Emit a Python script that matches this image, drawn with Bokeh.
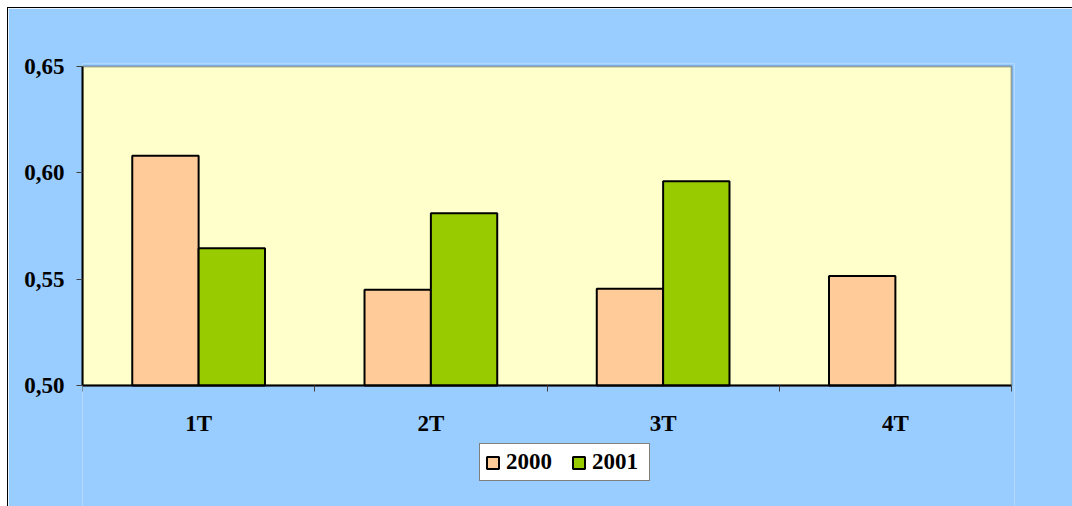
import numpy as np
from bokeh.plotting import figure
from bokeh.models import Range1d, FixedTicker, Legend, LegendItem, ColumnDataSource, BoxAnnotation
from bokeh.embed import file_html
from bokeh.resources import INLINE

categories = ["1T", "2T", "3T", "4T"]
series_names = ["2000", "2001"]
values_2000 = [0.608, 0.545, 0.5455, 0.5515]
values_2001 = [0.5645, 0.581, 0.596, None]
series_colors = ["#FFCC99", "#99CC00"]
y_ticks = [0.50, 0.55, 0.60, 0.65]
y_tick_labels = ["0,50", "0,55", "0,60", "0,65"]
y_min, y_max = 0.50, 0.65

FONT = "Liberation Serif"
BLUE = "#99CCFF"
n = len(categories)
centers = np.arange(n) + 0.5
bar_w = 1.0 / 3.5

# frame covers the area below the axis too, so the legend can live inside it;
# a small pad above and to the right keeps the plot-area border from being clipped
W, H = 1064, 498
LEFT, RIGHT, TOP = 74, 61, 58
PAD = 3
plot_w = W - LEFT - RIGHT
plot_h = 319.0
frame_h = H - TOP + PAD
y_hi = y_max + (y_max - y_min) * PAD / plot_h
y_low = y_hi - (y_max - y_min) * frame_h / plot_h
x_hi = n + n * PAD / plot_w

p = figure(width=W, height=H, output_backend="svg", toolbar_location=None,
           x_range=Range1d(0, x_hi), y_range=Range1d(y_low, y_hi),
           min_border_left=LEFT, min_border_right=RIGHT - PAD,
           min_border_top=TOP - PAD, min_border_bottom=0)
p.styles = {"margin-left": "8px", "margin-top": "8px", "outline": "1px solid black"}
p.border_fill_color = BLUE
p.background_fill_color = BLUE
p.outline_line_color = None
p.xgrid.visible = False
p.ygrid.visible = False

p.add_layout(BoxAnnotation(left=0, right=n, bottom=y_min, top=y_max,
                           fill_color="#FFFFCC", fill_alpha=1,
                           line_color="black", line_width=2, level="underlay"))

renderers = []
for i, (name, vals, col) in enumerate(zip(series_names, [values_2000, values_2001], series_colors)):
    xs, tops = [], []
    for c, v in zip(centers, vals):
        if v is not None:
            xs.append(c + (i - 0.5) * bar_w)
            tops.append(v)
    src = ColumnDataSource(dict(x=xs, top=tops))
    r = p.vbar(x="x", top="top", bottom=y_min, width=bar_w, source=src,
               fill_color=col, line_color="black", line_width=2)
    renderers.append((name, r))

# x axis, pinned at the bottom of the value range
xa = p.xaxis[0]
xa.fixed_location = y_min
xa.bounds = (0, n)
xa.ticker = FixedTicker(ticks=list(centers), minor_ticks=list(range(n + 1)))
xa.major_label_overrides = {float(c): lab for c, lab in zip(centers, categories)}
xa.major_tick_line_color = None
xa.minor_tick_in = 0
xa.minor_tick_out = 6
xa.minor_tick_line_color = "#404040"
xa.axis_line_color = "black"
xa.axis_line_width = 2
xa.major_label_text_font = FONT
xa.major_label_text_font_style = "bold"
xa.major_label_text_font_size = "23px"
xa.major_label_text_color = "black"
xa.major_label_standoff = 19

ya = p.yaxis[0]
ya.bounds = (y_min, y_max)
ya.ticker = FixedTicker(ticks=y_ticks, minor_ticks=[])
ya.major_label_overrides = {t: lab for t, lab in zip(y_ticks, y_tick_labels)}
ya.major_tick_in = 0
ya.major_tick_out = 6
ya.major_tick_line_color = "#404040"
ya.axis_line_color = "black"
ya.axis_line_width = 2
ya.major_label_text_font = FONT
ya.major_label_text_font_style = "bold"
ya.major_label_text_font_size = "23px"
ya.major_label_text_color = "black"
ya.major_label_standoff = 12

legend = Legend(items=[LegendItem(label=nm, renderers=[r]) for nm, r in renderers],
                orientation="horizontal", location=(397, 25))
legend.label_text_font = FONT
legend.label_text_font_style = "bold"
legend.label_text_font_size = "23px"
legend.label_text_color = "black"
legend.glyph_width = 15
legend.glyph_height = 15
legend.label_standoff = 6
legend.label_width = 52
legend.label_height = 23
legend.spacing = 13
legend.padding = 5
legend.margin = 0
legend.border_line_color = "black"
legend.border_line_width = 1
legend.background_fill_color = "white"
legend.background_fill_alpha = 1
p.add_layout(legend, "center")

open("out.html", "w").write(file_html(p, INLINE))
